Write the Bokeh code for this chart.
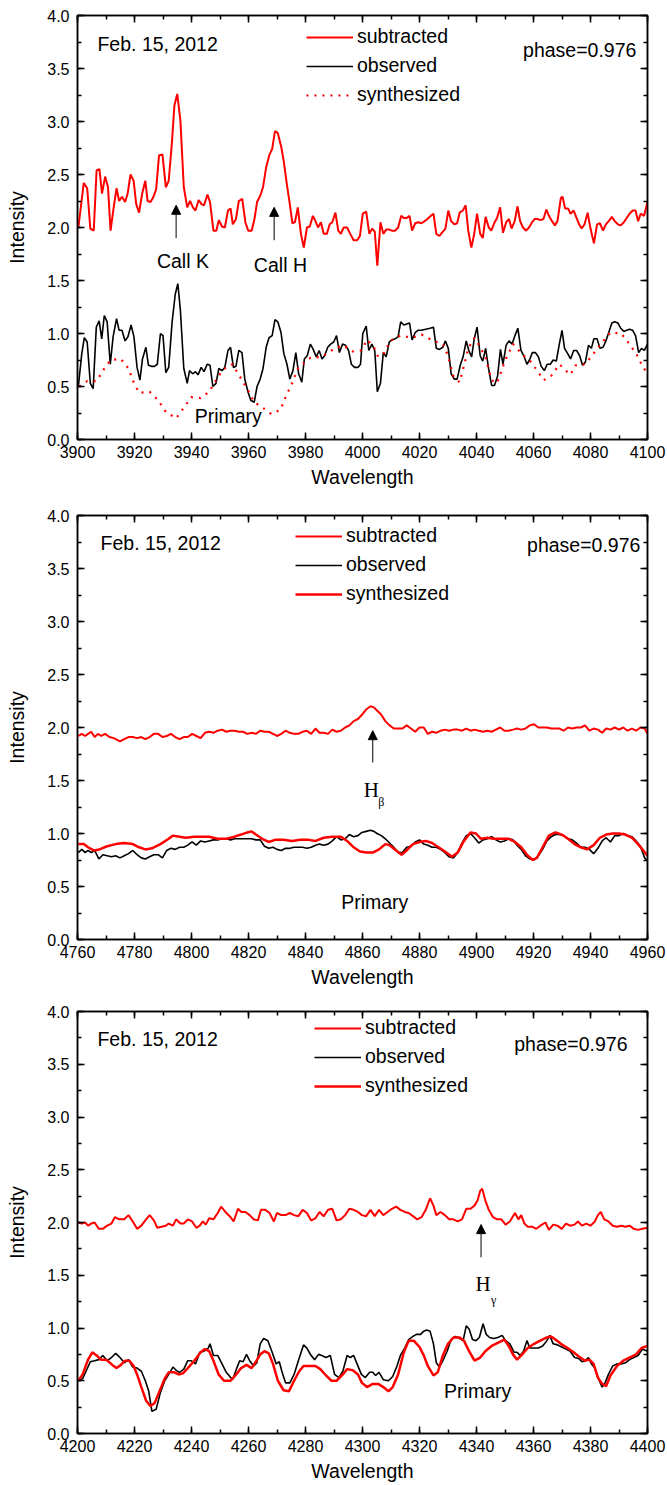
from bokeh.plotting import figure
from bokeh.layouts import column
from bokeh.models import (Range1d, LinearAxis, SingleIntervalTicker, PrintfTickFormatter,
                          Legend, LegendItem, Arrow, NormalHead, Label, CustomLabelingPolicy)
from bokeh.embed import file_html
from bokeh.resources import INLINE

RED = "#ff0000"
FONT = "Liberation Sans"
SERIF = "Liberation Serif"
DATE_TEXT = "Feb. 15, 2012"
PHASE_TEXT = "phase=0.976"
SERIES_NAMES = ["subtracted", "observed", "synthesized"]

# ---------------- Panel 1: 3900-4100 (Ca II H & K) ----------------
p1_sub_wl = [3900.3, 3902.2, 3903.4, 3904.5, 3905.7, 3906.7, 3907.7, 3908.6, 3909.7, 3910.7, 3911.6, 3912.7,
             3913.7, 3914.6, 3915.6, 3916.7, 3917.6, 3918.6, 3919.7, 3920.6, 3921.6, 3922.7, 3923.8, 3924.6,
             3925.6, 3926.5, 3927.6, 3928.6, 3929.8, 3931.0, 3932.0, 3933.1, 3934.0, 3935.0, 3936.1, 3937.3,
             3938.5, 3939.5, 3940.5, 3941.4, 3942.5, 3943.5, 3944.4, 3945.6, 3946.5, 3947.7, 3948.7, 3949.6,
             3950.7, 3951.7, 3952.8, 3953.7, 3954.5, 3955.6, 3956.6, 3957.8, 3958.9, 3959.9, 3961.1, 3962.1,
             3963.0, 3964.1, 3965.1, 3966.2, 3967.4, 3968.3, 3969.3, 3970.3, 3971.5, 3972.4, 3973.5, 3974.5,
             3975.4, 3976.3, 3977.3, 3978.4, 3979.4, 3980.5, 3981.5, 3982.6, 3983.5, 3984.4, 3985.4, 3986.4,
             3987.5, 3988.5, 3989.4, 3990.5, 3991.5, 3992.4, 3993.4, 3994.6, 3995.7, 3996.9, 3998.1, 3999.1,
             4000.1, 4001.3, 4002.4, 4003.4, 4004.3, 4005.2, 4006.3, 4007.3, 4008.3, 4009.4, 4010.3, 4011.5,
             4012.5, 4013.6, 4014.5, 4015.5, 4016.5, 4017.4, 4018.5, 4019.5, 4020.7, 4021.8, 4022.8, 4024.0,
             4024.9, 4025.9, 4027.0, 4028.2, 4029.1, 4030.1, 4031.1, 4032.2, 4033.2, 4034.1, 4035.2, 4036.2,
             4037.1, 4038.2, 4039.2, 4040.2, 4041.3, 4042.2, 4043.2, 4044.3, 4045.2, 4046.2, 4047.2, 4048.3,
             4049.3, 4050.4, 4051.4, 4052.3, 4053.4, 4054.4, 4055.3, 4056.3, 4057.4, 4058.4, 4059.5, 4060.4,
             4061.4, 4062.4, 4063.5, 4064.5, 4065.4, 4066.5, 4067.5, 4068.4, 4069.6, 4070.2, 4071.1, 4072.1,
             4073.0, 4074.1, 4075.1, 4076.0, 4076.9, 4077.9, 4079.0, 4080.0, 4081.2, 4082.3, 4083.3, 4084.4,
             4085.4, 4086.4, 4087.5, 4088.5, 4089.6, 4090.6, 4091.7, 4092.7, 4093.7, 4094.8, 4095.8, 4096.7,
             4097.6, 4098.8, 4100.0]
p1_sub_int = [2.00, 2.42, 2.37, 1.99, 1.97, 2.54, 2.55, 2.32, 2.48, 2.38, 1.97, 2.19,
              2.37, 2.25, 2.29, 2.24, 2.32, 2.50, 2.44, 2.22, 2.14, 2.32, 2.44, 2.25,
              2.24, 2.28, 2.36, 2.68, 2.69, 2.38, 2.44, 2.79, 3.15, 3.26, 3.01, 2.38,
              2.19, 2.25, 2.19, 2.16, 2.26, 2.22, 2.21, 2.31, 2.24, 1.97, 1.97, 2.07,
              2.01, 2.00, 2.16, 2.18, 2.03, 2.08, 2.25, 2.27, 2.05, 1.97, 1.97, 2.08,
              2.24, 2.30, 2.38, 2.57, 2.69, 2.74, 2.91, 2.89, 2.76, 2.62, 2.40, 2.22,
              2.04, 2.05, 2.19, 1.94, 1.81, 2.00, 2.01, 2.11, 2.06, 2.00, 2.05, 1.94,
              1.94, 2.03, 2.05, 2.14, 1.97, 1.94, 2.00, 2.00, 1.94, 1.88, 1.88, 1.92,
              2.13, 2.15, 1.94, 1.99, 1.96, 1.64, 2.05, 1.94, 1.98, 1.98, 1.97, 1.97,
              2.00, 2.11, 2.09, 2.09, 2.11, 1.97, 2.04, 2.05, 2.04, 2.06, 2.08, 2.11,
              2.13, 1.94, 1.92, 1.96, 1.99, 2.16, 2.06, 2.03, 2.04, 2.14, 2.16, 2.21,
              1.97, 1.81, 1.94, 2.13, 1.94, 1.90, 2.10, 2.00, 1.97, 2.04, 2.09, 2.19,
              1.95, 2.05, 2.08, 1.99, 2.06, 2.20, 2.06, 2.00, 1.97, 2.00, 2.05, 2.08,
              2.08, 2.07, 2.08, 2.17, 2.11, 2.06, 2.02, 2.06, 2.28, 2.29, 2.18, 2.18,
              2.13, 2.16, 2.09, 2.03, 1.99, 2.03, 2.14, 1.99, 1.85, 2.03, 2.04, 1.97,
              2.03, 2.06, 2.10, 2.06, 2.03, 2.02, 2.05, 2.09, 2.13, 2.16, 2.16, 2.06,
              2.13, 2.11, 2.24]

p1_obs_wl = [3900.3, 3901.5, 3902.4, 3903.4, 3904.5, 3905.5, 3906.6, 3907.6, 3908.5, 3909.4, 3910.4, 3911.5,
             3912.5, 3913.7, 3914.6, 3915.6, 3916.7, 3917.7, 3918.8, 3919.8, 3920.9, 3921.9, 3922.8, 3924.0,
             3924.9, 3925.9, 3927.0, 3928.0, 3929.1, 3930.0, 3931.0, 3932.0, 3933.2, 3934.3, 3935.2, 3936.1,
             3937.3, 3938.5, 3939.3, 3940.4, 3941.4, 3942.3, 3943.4, 3944.4, 3945.5, 3946.5, 3947.5, 3948.6,
             3949.6, 3950.7, 3951.7, 3952.8, 3953.7, 3954.7, 3955.6, 3956.6, 3957.7, 3958.7, 3959.8, 3960.8,
             3962.0, 3963.0, 3964.1, 3965.1, 3966.2, 3967.2, 3968.3, 3969.3, 3970.3, 3971.4, 3972.4, 3973.5,
             3974.5, 3975.6, 3976.6, 3977.6, 3978.7, 3979.6, 3980.6, 3981.7, 3982.7, 3983.8, 3984.8, 3985.8,
             3986.7, 3987.8, 3988.8, 3989.9, 3990.9, 3991.9, 3993.0, 3994.0, 3995.1, 3996.1, 3997.2, 3998.4,
             3999.3, 4000.1, 4001.3, 4002.2, 4003.3, 4004.3, 4005.2, 4006.3, 4007.3, 4008.3, 4009.4, 4010.4,
             4011.5, 4012.5, 4013.4, 4014.5, 4015.5, 4016.5, 4017.4, 4018.5, 4019.5, 4020.7, 4022.2, 4023.7,
             4024.9, 4025.9, 4027.0, 4028.2, 4029.1, 4030.1, 4031.1, 4032.2, 4033.2, 4034.3, 4035.3, 4036.4,
             4037.3, 4038.3, 4039.2, 4040.2, 4041.3, 4042.2, 4043.2, 4044.3, 4045.3, 4046.3, 4047.4, 4048.4,
             4049.3, 4050.4, 4051.4, 4052.5, 4053.5, 4054.5, 4055.6, 4056.6, 4057.7, 4058.6, 4059.6, 4060.7,
             4061.7, 4062.7, 4063.8, 4064.8, 4065.9, 4066.9, 4068.0, 4069.0, 4070.0, 4070.9, 4072.0, 4073.0,
             4074.1, 4075.1, 4076.2, 4077.2, 4078.2, 4079.3, 4080.3, 4081.2, 4082.3, 4083.3, 4084.4, 4085.4,
             4086.4, 4087.5, 4088.5, 4089.6, 4090.6, 4091.7, 4092.7, 4093.7, 4094.8, 4095.8, 4096.9, 4097.9,
             4098.9, 4100.0]
p1_obs_int = [0.50, 0.81, 0.96, 0.92, 0.53, 0.48, 1.06, 1.12, 0.95, 1.17, 1.11, 0.71,
              0.97, 1.14, 1.03, 1.03, 0.93, 0.97, 1.08, 0.97, 0.68, 0.56, 0.76, 0.87,
              0.70, 0.69, 0.69, 0.71, 1.00, 0.98, 0.63, 0.68, 1.11, 1.37, 1.47, 1.22,
              0.67, 0.53, 0.65, 0.62, 0.64, 0.61, 0.68, 0.64, 0.71, 0.70, 0.50, 0.53,
              0.67, 0.65, 0.68, 0.84, 0.87, 0.68, 0.69, 0.84, 0.82, 0.57, 0.45, 0.37,
              0.35, 0.50, 0.57, 0.67, 0.87, 0.96, 0.98, 1.13, 1.11, 1.01, 0.81, 0.71,
              0.57, 0.65, 0.82, 0.62, 0.54, 0.76, 0.79, 0.90, 0.85, 0.78, 0.84, 0.76,
              0.79, 0.87, 0.90, 0.92, 0.98, 0.82, 0.90, 0.89, 0.84, 0.71, 0.68, 0.68,
              0.71, 1.00, 1.07, 0.84, 0.90, 0.84, 0.45, 0.53, 0.82, 0.78, 0.92, 0.94,
              0.95, 0.97, 1.11, 1.08, 1.09, 1.10, 0.94, 1.01, 1.03, 1.03, 1.04, 1.05,
              1.06, 0.86, 0.85, 0.87, 0.93, 0.86, 0.62, 0.57, 0.57, 0.70, 0.78, 0.93,
              0.84, 0.78, 0.95, 1.06, 0.79, 0.74, 0.86, 0.66, 0.51, 0.51, 0.60, 0.85,
              0.71, 0.89, 0.93, 0.90, 0.98, 1.05, 0.84, 0.79, 0.71, 0.75, 0.82, 0.82,
              0.78, 0.69, 0.65, 0.71, 0.71, 0.75, 0.74, 0.89, 1.03, 0.86, 0.81, 0.76,
              0.84, 0.84, 0.79, 0.70, 0.73, 0.89, 0.86, 0.95, 0.95, 0.86, 0.87, 0.93,
              1.01, 1.10, 1.11, 1.10, 1.05, 1.02, 1.03, 1.04, 1.03, 0.98, 0.82, 0.86,
              0.84, 0.90]

p1_syn_wl = [3900.6, 3903.4, 3906.7, 3908.9, 3911.6, 3915.2, 3917.9, 3919.7, 3921.6, 3925.3, 3928.3, 3931.0,
             3934.6, 3937.6, 3939.9, 3943.2, 3946.2, 3948.4, 3951.0, 3954.4, 3957.5, 3959.9, 3962.1, 3964.5,
             3968.0, 3971.2, 3973.0, 3975.3, 3977.5, 3981.7, 3985.7, 3989.7, 3993.1, 3996.6, 3999.6, 4001.6,
             4004.0, 4005.5, 4007.7, 4009.7, 4013.3, 4017.4, 4020.7, 4024.9, 4028.2, 4029.7, 4032.0, 4034.1,
             4036.2, 4037.1, 4039.3, 4041.3, 4043.1, 4045.3, 4047.2, 4050.1, 4052.8, 4056.2, 4059.2, 4063.6,
             4066.2, 4069.1, 4072.9, 4074.8, 4078.1, 4080.8, 4083.3, 4087.0, 4090.8, 4093.4, 4096.0, 4097.9,
             4099.7]
p1_syn_int = [0.50, 0.55, 0.55, 0.65, 0.75, 0.76, 0.67, 0.54, 0.44, 0.45, 0.37, 0.26,
              0.20, 0.31, 0.40, 0.39, 0.45, 0.55, 0.66, 0.71, 0.57, 0.46, 0.35, 0.31,
              0.24, 0.28, 0.40, 0.53, 0.68, 0.77, 0.78, 0.85, 0.89, 0.83, 0.84, 0.94,
              0.87, 0.78, 0.82, 0.93, 0.98, 0.96, 0.99, 0.93, 0.90, 0.81, 0.59, 0.54,
              0.76, 0.86, 0.96, 0.87, 0.78, 0.56, 0.53, 0.75, 0.90, 0.80, 0.73, 0.56,
              0.60, 0.71, 0.61, 0.70, 0.71, 0.80, 0.89, 1.01, 1.00, 0.91, 0.81, 0.71,
              0.63]

# ---------------- Panel 2: 4760-4960 (H beta) ----------------
p2_sub_wl = [4760.3, 4761.5, 4762.7, 4763.7, 4764.8, 4766.0, 4767.2, 4768.3, 4769.7, 4771.2, 4772.7, 4774.9,
             4776.4, 4777.9, 4779.4, 4780.9, 4782.4, 4783.8, 4785.3, 4786.8, 4788.3, 4789.8, 4791.3, 4792.8,
             4794.3, 4795.8, 4797.3, 4798.7, 4800.2, 4801.7, 4803.2, 4804.7, 4806.2, 4807.7, 4809.2, 4810.7,
             4812.2, 4813.7, 4815.1, 4816.6, 4818.1, 4819.6, 4821.1, 4822.6, 4824.1, 4825.6, 4827.1, 4828.6,
             4830.0, 4831.5, 4833.0, 4834.5, 4836.0, 4837.5, 4839.0, 4840.5, 4842.0, 4843.5, 4844.9, 4846.4,
             4847.9, 4849.4, 4850.9, 4852.4, 4853.9, 4855.4, 4856.9, 4858.4, 4859.8, 4861.3, 4862.8, 4864.0,
             4865.1, 4866.6, 4868.0, 4869.5, 4871.0, 4872.5, 4874.0, 4875.5, 4877.0, 4878.5, 4880.0, 4881.5,
             4882.9, 4884.4, 4885.9, 4887.4, 4888.9, 4890.4, 4891.9, 4893.4, 4894.9, 4896.4, 4897.9, 4899.3,
             4900.8, 4902.3, 4903.8, 4905.3, 4906.8, 4908.3, 4909.8, 4911.3, 4912.8, 4914.2, 4915.7, 4917.2,
             4918.7, 4920.2, 4921.7, 4923.2, 4924.7, 4926.2, 4927.7, 4929.1, 4930.6, 4932.1, 4933.6, 4935.1,
             4936.6, 4938.1, 4939.6, 4941.1, 4942.6, 4944.1, 4945.5, 4947.0, 4948.5, 4950.0, 4951.5, 4953.0,
             4954.5, 4956.0, 4957.5, 4959.0, 4960.0]
p2_sub_int = [1.92, 1.94, 1.92, 1.94, 1.96, 1.91, 1.94, 1.92, 1.94, 1.91, 1.90, 1.87,
              1.89, 1.91, 1.91, 1.90, 1.91, 1.89, 1.91, 1.94, 1.94, 1.91, 1.92, 1.94,
              1.91, 1.89, 1.91, 1.91, 1.94, 1.92, 1.90, 1.95, 1.96, 1.95, 1.97, 1.98,
              1.96, 1.97, 1.97, 1.96, 1.96, 1.94, 1.95, 1.94, 1.97, 1.96, 1.96, 1.94,
              1.92, 1.94, 1.97, 1.95, 1.94, 1.94, 1.96, 1.97, 1.94, 1.99, 1.95, 1.95,
              1.94, 1.98, 1.96, 1.97, 2.00, 2.02, 2.06, 2.08, 2.12, 2.17, 2.20, 2.19,
              2.16, 2.12, 2.06, 2.02, 1.99, 1.99, 1.99, 2.02, 1.99, 1.96, 2.00, 2.00,
              1.94, 1.96, 1.95, 1.97, 1.98, 1.97, 1.98, 1.98, 1.97, 1.99, 1.97, 1.98,
              1.97, 1.96, 1.97, 1.96, 1.98, 2.00, 1.97, 1.97, 1.98, 1.99, 1.98, 1.99,
              2.02, 2.03, 2.00, 2.00, 2.00, 1.99, 1.99, 1.99, 1.97, 2.00, 1.99, 2.00,
              2.00, 2.02, 1.97, 1.99, 1.98, 1.95, 1.99, 1.98, 2.00, 1.98, 2.00, 1.97,
              1.99, 1.97, 2.00, 1.99, 1.94]

p2_obs_wl = [4760.3, 4761.5, 4762.7, 4763.7, 4764.9, 4766.0, 4767.5, 4768.9, 4770.4, 4771.9, 4773.4, 4774.9,
             4776.4, 4777.9, 4779.4, 4780.9, 4782.4, 4783.8, 4785.3, 4786.8, 4788.3, 4789.8, 4791.3, 4792.8,
             4794.3, 4795.8, 4797.3, 4798.7, 4800.2, 4801.7, 4803.2, 4804.7, 4806.2, 4807.7, 4809.2, 4810.7,
             4812.2, 4813.7, 4815.1, 4816.6, 4818.1, 4819.6, 4821.1, 4822.6, 4824.1, 4825.6, 4827.1, 4828.6,
             4830.0, 4831.5, 4833.0, 4834.5, 4836.0, 4837.5, 4839.0, 4840.5, 4842.0, 4843.5, 4844.9, 4846.4,
             4847.9, 4849.4, 4850.9, 4852.4, 4853.9, 4855.4, 4856.9, 4858.4, 4859.8, 4861.3, 4862.8, 4864.0,
             4865.1, 4866.6, 4868.0, 4869.5, 4871.0, 4872.5, 4874.0, 4875.5, 4877.0, 4878.5, 4880.0, 4881.5,
             4882.9, 4884.4, 4885.9, 4887.4, 4888.9, 4890.4, 4891.9, 4893.4, 4894.9, 4896.4, 4897.9, 4899.3,
             4900.8, 4902.3, 4903.8, 4905.3, 4906.8, 4908.3, 4909.8, 4911.3, 4912.8, 4914.2, 4915.7, 4917.2,
             4918.7, 4920.2, 4921.7, 4923.2, 4924.7, 4926.2, 4927.7, 4929.1, 4930.6, 4932.1, 4933.6, 4935.1,
             4936.6, 4938.1, 4939.6, 4941.1, 4942.6, 4944.1, 4945.5, 4947.0, 4948.5, 4950.0, 4951.5, 4953.0,
             4954.5, 4956.0, 4957.5, 4959.0, 4960.0]
p2_obs_int = [0.82, 0.85, 0.82, 0.84, 0.82, 0.84, 0.76, 0.80, 0.79, 0.78, 0.79, 0.77,
              0.79, 0.81, 0.84, 0.80, 0.77, 0.76, 0.78, 0.80, 0.80, 0.77, 0.84, 0.86,
              0.85, 0.87, 0.87, 0.89, 0.92, 0.89, 0.93, 0.92, 0.93, 0.94, 0.94, 0.95,
              0.95, 0.94, 0.95, 0.95, 0.95, 0.95, 0.95, 0.94, 0.94, 0.88, 0.86, 0.87,
              0.85, 0.84, 0.86, 0.86, 0.87, 0.87, 0.87, 0.86, 0.87, 0.89, 0.90, 0.89,
              0.90, 0.93, 0.97, 0.94, 0.95, 0.99, 0.97, 0.98, 1.01, 1.02, 1.03, 1.02,
              1.00, 0.98, 0.95, 0.91, 0.87, 0.82, 0.82, 0.87, 0.88, 0.92, 0.94, 0.90,
              0.89, 0.87, 0.87, 0.85, 0.82, 0.78, 0.77, 0.82, 0.91, 0.98, 1.00, 0.96,
              0.91, 0.94, 0.95, 0.97, 0.94, 0.92, 0.93, 0.95, 0.94, 0.89, 0.85, 0.79,
              0.76, 0.75, 0.79, 0.85, 0.93, 0.97, 0.99, 0.99, 0.98, 0.95, 0.94, 0.91,
              0.87, 0.87, 0.85, 0.81, 0.86, 0.93, 0.96, 0.92, 0.98, 0.98, 1.00, 0.98,
              0.97, 0.93, 0.88, 0.77, 0.74]

p2_syn_wl = [4760.3, 4762.2, 4763.7, 4765.7, 4767.7, 4770.4, 4773.4, 4776.4, 4779.4, 4781.6, 4783.8, 4786.1,
             4789.1, 4792.0, 4793.5, 4795.8, 4798.0, 4801.0, 4803.2, 4806.2, 4809.2, 4812.2, 4815.1, 4817.4,
             4819.6, 4821.1, 4822.6, 4824.8, 4827.1, 4829.3, 4832.3, 4835.3, 4838.2, 4841.2, 4843.5, 4846.4,
             4849.4, 4852.4, 4854.6, 4856.9, 4859.1, 4861.3, 4863.6, 4865.8, 4868.0, 4869.5, 4871.8, 4873.7,
             4875.5, 4877.7, 4880.0, 4882.2, 4884.4, 4886.7, 4888.9, 4891.4, 4893.4, 4895.6, 4897.9, 4899.8,
             4901.6, 4903.8, 4906.0, 4908.3, 4911.3, 4913.5, 4915.7, 4918.0, 4919.8, 4921.2, 4923.2, 4925.4,
             4927.7, 4929.9, 4932.1, 4934.4, 4936.6, 4938.8, 4941.1, 4943.3, 4945.5, 4947.8, 4950.0, 4952.2,
             4954.5, 4956.7, 4958.2, 4960.0]
p2_syn_int = [0.90, 0.90, 0.87, 0.84, 0.85, 0.88, 0.90, 0.91, 0.90, 0.87, 0.85, 0.86,
              0.90, 0.95, 0.98, 0.97, 0.96, 0.97, 0.97, 0.97, 0.95, 0.95, 0.97, 0.99,
              1.01, 1.02, 0.99, 0.95, 0.92, 0.94, 0.94, 0.93, 0.94, 0.94, 0.93, 0.96,
              0.97, 0.97, 0.93, 0.87, 0.83, 0.82, 0.82, 0.85, 0.90, 0.89, 0.84, 0.80,
              0.84, 0.90, 0.92, 0.93, 0.91, 0.87, 0.83, 0.78, 0.82, 0.93, 1.01, 1.00,
              0.95, 0.96, 0.95, 0.95, 0.95, 0.92, 0.87, 0.79, 0.75, 0.77, 0.87, 0.98,
              1.01, 0.99, 0.95, 0.90, 0.87, 0.85, 0.89, 0.96, 0.99, 1.00, 1.00, 0.99,
              0.96, 0.90, 0.85, 0.79]

# ---------------- Panel 3: 4200-4400 (H gamma) ----------------
p3_sub_wl = [4200.3, 4201.5, 4202.7, 4203.7, 4204.8, 4206.0, 4207.5, 4208.9, 4210.4, 4211.9, 4213.1, 4214.6,
             4216.4, 4217.9, 4219.4, 4220.9, 4222.4, 4223.8, 4225.3, 4226.8, 4228.0, 4229.5, 4231.0, 4232.0,
             4233.5, 4234.6, 4236.1, 4237.3, 4238.7, 4240.2, 4241.7, 4242.9, 4244.0, 4245.0, 4246.2, 4247.7,
             4249.2, 4250.4, 4251.9, 4253.4, 4254.8, 4256.3, 4257.5, 4258.9, 4260.4, 4261.8, 4263.3, 4264.4,
             4265.9, 4267.4, 4268.9, 4270.0, 4271.5, 4273.0, 4274.5, 4276.0, 4277.5, 4279.0, 4280.5, 4282.0,
             4283.5, 4284.9, 4286.4, 4287.9, 4289.4, 4290.9, 4292.4, 4293.9, 4295.4, 4296.9, 4298.4, 4299.8,
             4301.3, 4302.8, 4304.3, 4305.8, 4307.3, 4308.8, 4310.3, 4311.8, 4313.3, 4314.8, 4316.2, 4317.7,
             4319.2, 4320.7, 4322.2, 4323.7, 4324.9, 4325.9, 4327.4, 4328.9, 4330.4, 4331.9, 4333.4, 4334.9,
             4336.4, 4337.9, 4339.3, 4340.4, 4341.3, 4342.0, 4343.1, 4344.3, 4345.8, 4347.2, 4348.7, 4350.2,
             4351.7, 4353.5, 4354.7, 4355.7, 4356.8, 4358.0, 4359.5, 4361.0, 4362.4, 4364.2, 4365.4, 4366.9,
             4368.4, 4369.9, 4371.4, 4372.9, 4374.4, 4375.6, 4377.0, 4378.5, 4380.0, 4381.5, 4382.6, 4383.6,
             4384.8, 4386.3, 4387.8, 4389.3, 4390.8, 4392.3, 4393.7, 4395.2, 4396.7, 4398.2, 4400.0]
p3_sub_int = [2.00, 1.99, 2.00, 1.97, 1.99, 2.00, 1.94, 1.94, 1.97, 1.99, 2.05, 2.03,
              2.03, 2.07, 2.01, 1.94, 1.97, 2.02, 2.07, 2.02, 1.95, 1.96, 1.97, 1.99,
              1.97, 2.03, 1.99, 1.99, 2.03, 2.01, 1.95, 1.97, 2.01, 1.98, 2.04, 2.03,
              2.09, 2.15, 2.10, 2.06, 2.01, 2.13, 2.10, 2.10, 2.07, 2.03, 2.02, 2.12,
              2.12, 2.09, 2.01, 2.09, 2.07, 2.07, 2.09, 2.07, 2.06, 2.12, 2.09, 2.02,
              2.04, 2.10, 2.06, 2.12, 2.13, 2.02, 2.03, 2.07, 2.13, 2.12, 2.10, 2.07,
              2.06, 2.12, 2.06, 2.12, 2.07, 2.10, 2.13, 2.15, 2.12, 2.10, 2.09, 2.06,
              2.03, 2.05, 2.12, 2.23, 2.16, 2.07, 2.10, 2.07, 2.03, 2.03, 2.01, 2.03,
              2.13, 2.13, 2.16, 2.21, 2.30, 2.32, 2.21, 2.12, 2.05, 2.03, 2.03, 1.98,
              2.01, 2.09, 2.03, 2.07, 1.99, 1.96, 1.96, 1.94, 1.97, 2.00, 1.93, 1.98,
              1.97, 1.94, 1.99, 1.97, 1.98, 2.01, 1.97, 1.99, 1.97, 2.01, 2.07, 2.10,
              2.03, 2.01, 1.97, 1.96, 1.97, 1.96, 1.97, 1.94, 1.93, 1.94, 1.95]

p3_obs_wl = [4200.3, 4201.8, 4203.0, 4204.5, 4206.0, 4207.5, 4208.9, 4210.4, 4211.9, 4213.4, 4214.9, 4216.4,
             4217.9, 4219.4, 4220.9, 4222.4, 4223.8, 4225.0, 4226.1, 4227.6, 4229.1, 4230.6, 4232.0, 4233.5,
             4234.6, 4235.8, 4237.3, 4238.7, 4239.9, 4241.4, 4242.9, 4244.4, 4245.9, 4246.5, 4247.7, 4249.2,
             4250.7, 4252.2, 4254.4, 4255.9, 4256.9, 4258.1, 4259.3, 4260.4, 4261.8, 4262.9, 4264.1, 4265.3,
             4266.8, 4268.3, 4269.7, 4270.8, 4271.8, 4273.0, 4274.5, 4276.0, 4277.5, 4279.3, 4280.5, 4281.7,
             4283.2, 4284.6, 4285.7, 4287.2, 4288.7, 4290.2, 4291.7, 4293.1, 4294.6, 4295.7, 4296.9, 4298.1,
             4299.6, 4301.0, 4302.5, 4303.6, 4304.6, 4305.8, 4307.3, 4309.1, 4310.6, 4312.1, 4313.3, 4314.8,
             4316.2, 4317.7, 4318.9, 4320.4, 4321.5, 4322.5, 4323.7, 4324.9, 4325.9, 4327.0, 4328.2, 4329.7,
             4331.1, 4332.6, 4334.1, 4335.3, 4336.4, 4337.4, 4338.6, 4339.8, 4341.0, 4342.3, 4343.4, 4344.6,
             4346.0, 4347.5, 4349.0, 4350.2, 4351.7, 4353.2, 4354.2, 4355.3, 4356.5, 4357.7, 4358.7, 4360.2,
             4361.7, 4363.2, 4364.7, 4365.7, 4366.9, 4368.4, 4369.9, 4371.4, 4372.9, 4374.4, 4375.9, 4377.0,
             4378.1, 4379.3, 4380.3, 4381.5, 4382.6, 4384.1, 4385.1, 4386.3, 4387.8, 4389.3, 4390.8, 4392.3,
             4393.7, 4395.2, 4396.7, 4398.2, 4400.0]
p3_obs_int = [0.50, 0.52, 0.59, 0.68, 0.69, 0.70, 0.74, 0.69, 0.72, 0.76, 0.72, 0.67,
              0.70, 0.63, 0.62, 0.59, 0.50, 0.40, 0.21, 0.23, 0.39, 0.50, 0.56, 0.63,
              0.60, 0.58, 0.61, 0.69, 0.69, 0.66, 0.77, 0.78, 0.81, 0.85, 0.74, 0.74,
              0.66, 0.58, 0.51, 0.62, 0.69, 0.68, 0.75, 0.69, 0.64, 0.67, 0.85, 0.90,
              0.88, 0.77, 0.66, 0.68, 0.58, 0.48, 0.48, 0.56, 0.69, 0.84, 0.81, 0.75,
              0.70, 0.75, 0.74, 0.72, 0.74, 0.56, 0.53, 0.59, 0.74, 0.72, 0.74, 0.66,
              0.56, 0.53, 0.58, 0.58, 0.55, 0.58, 0.51, 0.50, 0.54, 0.64, 0.74, 0.81,
              0.89, 0.92, 0.94, 0.94, 0.97, 0.98, 0.97, 0.85, 0.67, 0.63, 0.69, 0.78,
              0.89, 0.92, 0.90, 0.88, 1.02, 0.99, 0.89, 0.88, 0.91, 1.04, 0.94, 0.91,
              0.90, 0.91, 0.93, 0.88, 0.85, 0.77, 0.77, 0.74, 0.78, 0.88, 0.81, 0.81,
              0.81, 0.83, 0.88, 0.93, 0.85, 0.84, 0.82, 0.80, 0.78, 0.72, 0.71, 0.68,
              0.69, 0.72, 0.66, 0.62, 0.53, 0.44, 0.48, 0.56, 0.64, 0.66, 0.66, 0.67,
              0.70, 0.72, 0.74, 0.80, 0.78]

p3_syn_wl = [4200.3, 4201.8, 4203.7, 4205.2, 4206.7, 4208.2, 4210.1, 4212.2, 4213.7, 4215.2, 4216.7, 4218.2,
             4219.7, 4220.9, 4222.4, 4224.1, 4225.6, 4227.1, 4228.6, 4230.6, 4232.0, 4234.0, 4235.5, 4237.0,
             4238.7, 4241.0, 4243.2, 4244.7, 4246.2, 4247.7, 4249.5, 4251.4, 4253.7, 4255.4, 4257.4, 4259.3,
             4261.1, 4262.6, 4264.1, 4265.6, 4267.1, 4268.6, 4270.3, 4272.3, 4274.2, 4276.0, 4277.8, 4279.3,
             4281.2, 4283.5, 4285.2, 4287.2, 4289.1, 4290.9, 4293.1, 4294.6, 4296.6, 4298.4, 4299.8, 4301.6,
             4303.6, 4305.5, 4307.3, 4309.1, 4310.6, 4312.5, 4314.5, 4316.2, 4318.0, 4320.0, 4321.5, 4322.9,
             4324.9, 4326.4, 4328.2, 4330.0, 4331.9, 4334.1, 4335.6, 4337.4, 4339.3, 4341.3, 4343.1, 4345.3,
             4347.5, 4349.8, 4351.3, 4352.8, 4354.2, 4355.7, 4358.0, 4360.2, 4362.4, 4364.7, 4366.2, 4367.7,
             4369.6, 4371.4, 4373.6, 4375.9, 4378.1, 4379.6, 4381.1, 4382.6, 4384.1, 4385.5, 4387.0, 4389.3,
             4391.5, 4393.7, 4396.0, 4397.9, 4400.0]
p3_syn_int = [0.50, 0.56, 0.70, 0.77, 0.74, 0.70, 0.70, 0.65, 0.62, 0.65, 0.69, 0.69,
              0.64, 0.56, 0.44, 0.31, 0.26, 0.29, 0.39, 0.52, 0.58, 0.58, 0.56, 0.57,
              0.62, 0.69, 0.77, 0.80, 0.78, 0.69, 0.56, 0.50, 0.50, 0.55, 0.62, 0.65,
              0.62, 0.68, 0.75, 0.78, 0.76, 0.66, 0.50, 0.41, 0.40, 0.50, 0.59, 0.64,
              0.64, 0.64, 0.61, 0.55, 0.50, 0.50, 0.56, 0.61, 0.60, 0.56, 0.48, 0.44,
              0.47, 0.47, 0.44, 0.40, 0.44, 0.56, 0.77, 0.88, 0.88, 0.82, 0.74, 0.64,
              0.55, 0.58, 0.74, 0.85, 0.91, 0.91, 0.88, 0.78, 0.69, 0.72, 0.78, 0.83,
              0.86, 0.89, 0.83, 0.75, 0.70, 0.74, 0.81, 0.85, 0.88, 0.91, 0.92, 0.89,
              0.85, 0.82, 0.78, 0.73, 0.69, 0.70, 0.66, 0.53, 0.47, 0.45, 0.55, 0.64,
              0.69, 0.72, 0.75, 0.81, 0.83]

Y_TICK_STEP = 0.5
X_TICK_STEP = 20


def make_panel(x0, x1, top, bottom, height, sub, obs, syn, syn_dotted, legend_xy,
               date_xy, phase_xy, primary_xy):
    p = figure(width=667, height=height, output_backend="svg", toolbar_location=None,
               x_range=Range1d(x0, x1), y_range=Range1d(0, 4),
               min_border_left=77, min_border_right=20, min_border_top=top, min_border_bottom=bottom,
               x_axis_label="Wavelength", y_axis_label="Intensity")
    p.grid.visible = False
    p.outline_line_color = "black"
    p.outline_line_width = 1.5
    p.background_fill_color = "white"
    p.border_fill_color = "white"

    xt = SingleIntervalTicker(interval=X_TICK_STEP, num_minor_ticks=2)
    yt = SingleIntervalTicker(interval=Y_TICK_STEP, num_minor_ticks=2)
    p.xaxis.ticker = xt
    p.yaxis.ticker = yt
    p.xaxis.formatter = PrintfTickFormatter(format="%d")
    p.yaxis.formatter = PrintfTickFormatter(format="%.1f")
    for ax in (p.xaxis[0], p.yaxis[0]):
        ax.major_tick_in = 7
        ax.major_tick_out = 0
        ax.minor_tick_in = 4
        ax.minor_tick_out = 0
        ax.axis_line_width = 1.5
        ax.major_tick_line_width = 1.5
        ax.minor_tick_line_width = 1.5
        ax.major_label_text_font = FONT
        ax.major_label_text_font_size = "16px"
        ax.major_label_text_color = "black"
        ax.axis_label_text_font = FONT
        ax.axis_label_text_font_size = "19.5px"
        ax.axis_label_text_font_style = "normal"
        ax.axis_label_text_color = "black"
    p.xaxis.major_label_standoff = 6
    p.yaxis.major_label_standoff = 8
    p.xaxis.axis_label_standoff = 5
    p.yaxis.axis_label_standoff = 16

    # mirrored tick marks on top and right edges, without labels
    for loc, tk in (("above", xt), ("right", yt)):
        ax = LinearAxis(ticker=tk, major_label_policy=CustomLabelingPolicy(code="return []"),
                        major_label_standoff=0,
                        major_tick_in=7, major_tick_out=0, minor_tick_in=4, minor_tick_out=0,
                        axis_line_width=1.5, major_tick_line_width=1.5, minor_tick_line_width=1.5)
        p.add_layout(ax, loc)

    r_sub = p.line(sub[0], sub[1], line_color=RED, line_width=2)
    r_obs = p.line(obs[0], obs[1], line_color="black", line_width=1.6)
    if syn_dotted:
        r_syn = p.line(syn[0], syn[1], line_color=RED, line_width=2.2, line_dash="2 6")
    else:
        r_syn = p.line(syn[0], syn[1], line_color=RED, line_width=2.5)

    legend = Legend(items=[LegendItem(label=SERIES_NAMES[0], renderers=[r_sub]),
                           LegendItem(label=SERIES_NAMES[1], renderers=[r_obs]),
                           LegendItem(label=SERIES_NAMES[2], renderers=[r_syn])],
                    location=legend_xy, padding=0, margin=0, spacing=6,
                    glyph_width=47, glyph_height=20, label_height=20, label_standoff=4,
                    label_text_font=FONT, label_text_font_size="19.5px", label_text_color="black",
                    border_line_alpha=0, background_fill_alpha=0)
    p.add_layout(legend)

    common = dict(text_font=FONT, text_font_size="19.5px", text_color="black", text_baseline="middle")
    p.add_layout(Label(x=date_xy[0], y=date_xy[1], text=DATE_TEXT, text_align="left", **common))
    p.add_layout(Label(x=phase_xy[0], y=phase_xy[1], text=PHASE_TEXT, text_align="right", **common))
    p.add_layout(Label(x=primary_xy[0], y=primary_xy[1], text="Primary", text_align="center", **common))
    return p


def add_arrow(p, x, y0, y1):
    p.add_layout(Arrow(end=NormalHead(size=9, fill_color="black", line_color="black", line_width=1),
                       x_start=x, y_start=y0, x_end=x, y_end=y1, line_width=1, line_color="black"))


def add_h_label(p, x, y, sub_char, sx, sy):
    p.add_layout(Label(x=x, y=y, text="H", text_font=SERIF, text_font_size="21px", text_color="black",
                       text_baseline="middle", text_align="center"))
    p.add_layout(Label(x=sx, y=sy, text=sub_char, text_font=SERIF, text_font_size="12px",
                       text_color="black", text_baseline="middle", text_align="center"))


# Panel 1
p1 = make_panel(3900, 4100, 15, 61, 500, (p1_sub_wl, p1_sub_int), (p1_obs_wl, p1_obs_int),
                (p1_syn_wl, p1_syn_int), True, (229, 333), (3907.0, 3.73), (4096.1, 3.67), (3952.9, 0.22))
add_arrow(p1, 3934.6, 1.90, 2.21)
add_arrow(p1, 3969.0, 1.88, 2.19)
lab = dict(text_font=FONT, text_font_size="19.5px", text_color="black",
           text_baseline="middle", text_align="center")
p1.add_layout(Label(x=3937.0, y=1.68, text="Call K", **lab))
p1.add_layout(Label(x=3971.2, y=1.65, text="Call H", **lab))

# Panel 2
p2 = make_panel(4760, 4960, 15, 61, 500, (p2_sub_wl, p2_sub_int), (p2_obs_wl, p2_obs_int),
                (p2_syn_wl, p2_syn_int), False, (218, 334), (4768.1, 3.74), (4957.5, 3.72), (4864.3, 0.35))
add_arrow(p2, 4863.6, 1.67, 1.97)
add_h_label(p2, 4863.1, 1.41, "β", 4866.6, 1.30)

# Panel 3
p3 = make_panel(4200, 4400, 9, 52, 485, (p3_sub_wl, p3_sub_int), (p3_obs_wl, p3_obs_int),
                (p3_syn_wl, p3_syn_int), False, (237, 336), (4207.0, 3.74), (4393.0, 3.69), (4340.4, 0.40))
add_arrow(p3, 4341.6, 1.67, 1.98)
add_h_label(p3, 4342.3, 1.42, "γ", 4346.0, 1.27)

layout = column(p1, p2, p3, spacing=0)
open("out.html", "w").write(file_html(layout, INLINE))
